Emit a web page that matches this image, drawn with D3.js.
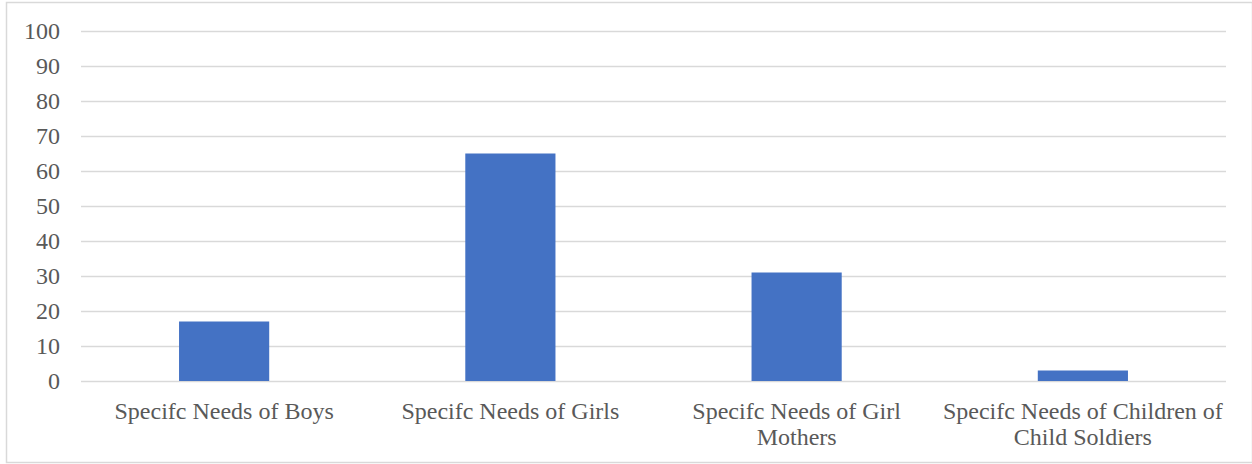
<!DOCTYPE html>
<html>
<head>
<meta charset="utf-8">
<script src="https://cdn.jsdelivr.net/npm/d3@7"></script>
<style>
  html, body { margin: 0; padding: 0; background: #fff; }
  svg { display: block; }
</style>
</head>
<body>
<svg id="chart" width="1252" height="464"></svg>
<script>
// Category names (each entry is a list of wrapped lines)
const categories = [
  ["Specifc Needs of Boys"],
  ["Specifc Needs of Girls"],
  ["Specifc Needs of Girl", "Mothers"],
  ["Specifc Needs of Children of", "Child Soldiers"]
];
const values = [17, 65, 31, 3];
const yTicks = [0, 10, 20, 30, 40, 50, 60, 70, 80, 90, 100];

const FONT = "'Liberation Serif', 'Times New Roman', serif";
const TEXT_COLOR = "#595959";
const FONT_SIZE = 24;

const svg = d3.select("#chart");
const W = 1252, H = 464;
const margin = { left: 81, right: 26, top: 31, bottom: 83 };
const plotW = W - margin.left - margin.right;
const plotH = H - margin.top - margin.bottom;

// outer frame
svg.append("rect")
  .attr("x", 6.5).attr("y", 2.5)
  .attr("width", W - 6).attr("height", H - 4)
  .attr("fill", "none").attr("stroke", "#d9d9d9").attr("stroke-width", 1.5);

const g = svg.append("g").attr("transform", `translate(${margin.left},${margin.top})`);

const x = d3.scaleBand().domain(d3.range(categories.length)).range([0, plotW]).padding(0);
const y = d3.scaleLinear().domain([0, 100]).range([plotH, 0]);

// gridlines
g.append("g")
  .selectAll("line")
  .data(yTicks)
  .join("line")
  .attr("x1", 0).attr("x2", plotW)
  .attr("y1", d => Math.round(y(d)) + 0.5).attr("y2", d => Math.round(y(d)) + 0.5)
  .attr("stroke", "#d9d9d9").attr("stroke-width", 1.5);

// y axis labels
const yAxis = d3.axisLeft(y).tickValues(yTicks).tickSize(0).tickPadding(21);
g.append("g").call(yAxis)
  .attr("font-family", FONT)
  .attr("font-size", FONT_SIZE)
  .call(s => s.select(".domain").remove())
  .selectAll("text")
  .attr("fill", TEXT_COLOR);

// bars
const barW = x.bandwidth() * 0.315;
g.append("g")
  .selectAll("rect")
  .data(values)
  .join("rect")
  .attr("x", (d, i) => x(i) + (x.bandwidth() - barW) / 2)
  .attr("y", d => y(d))
  .attr("width", barW)
  .attr("height", d => y(0) - y(d))
  .attr("fill", "#4472c4");

// category labels
const labels = g.append("g")
  .attr("font-family", FONT)
  .attr("font-size", FONT_SIZE)
  .attr("fill", TEXT_COLOR)
  .selectAll("text")
  .data(categories)
  .join("text")
  .attr("x", (d, i) => x(i) + x.bandwidth() / 2)
  .attr("y", plotH + 38)
  .attr("text-anchor", "middle");
labels.selectAll("tspan")
  .data(d => d)
  .join("tspan")
  .attr("x", function () { return this.parentNode.getAttribute("x"); })
  .attr("dy", (d, i) => i === 0 ? 0 : 26)
  .text(d => d);
</script>
</body>
</html>
